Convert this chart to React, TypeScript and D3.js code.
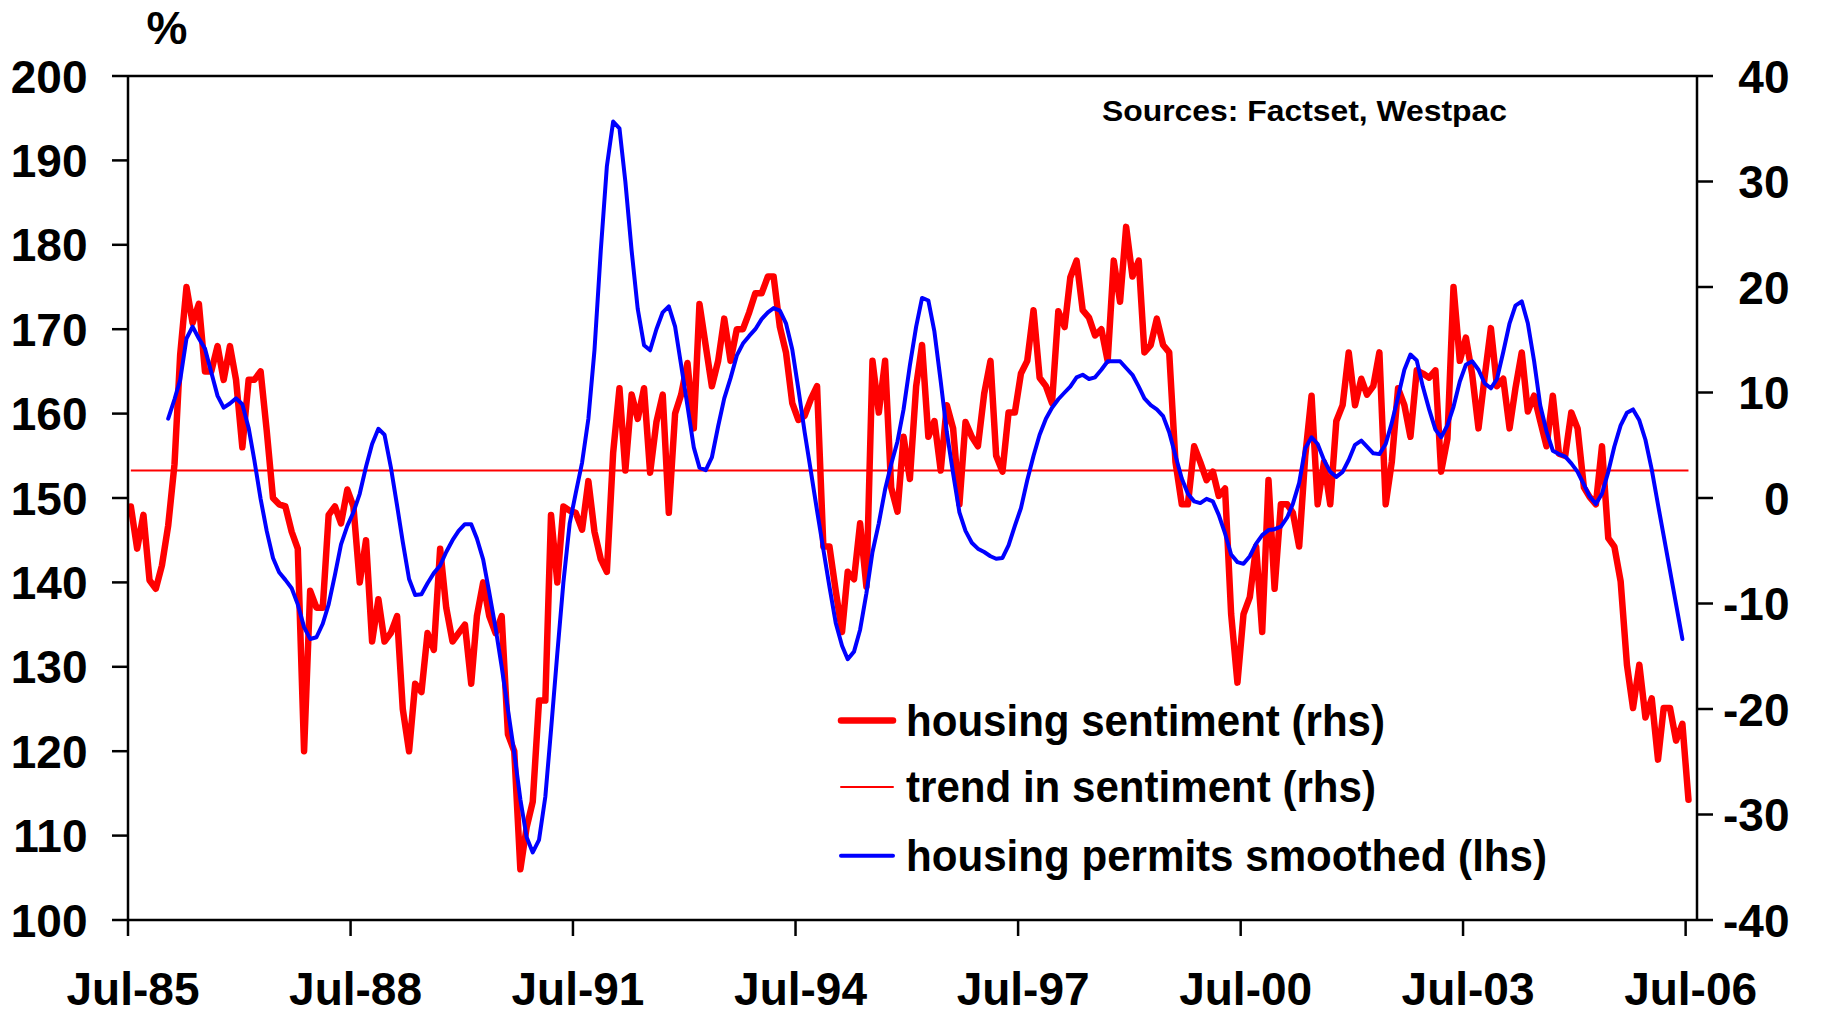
import React, { useEffect } from 'react';
import * as d3 from 'd3';

// housing sentiment (rhs), monthly from Jul-85
const sentimentRhs = [
  -0.8, -4.8, -1.6, -7.8, -8.6, -6.4, -2.6, 3.2, 13.6, 20,
  16.6, 18.4, 12, 12, 14.4, 11.2, 14.4, 11.2, 4.8, 11.2,
  11.2, 12, 6.4, 0, -0.6, -0.8, -3.2, -4.8, -24, -8.8,
  -10.4, -10.4, -1.6, -0.8, -2.4, 0.8, -0.8, -8, -4, -13.6,
  -9.6, -13.6, -12.8, -11.2, -20, -24, -17.6, -18.4, -12.8, -14.4,
  -4.8, -10.4, -13.6, -12.8, -12, -17.6, -11.2, -8, -11.2, -12.8,
  -11.2, -22.4, -24, -35.2, -31.2, -28.8, -19.2, -19.2, -1.6, -8,
  -0.8, -1.2, -1.4, -3, 1.6, -3.2, -5.8, -7, 4.3, 10.4,
  2.6, 9.8, 7.5, 10.4, 2.4, 7.2, 9.8, -1.4, 8, 9.8,
  12.8, 6.6, 18.4, 14.4, 10.6, 13, 17, 13, 16, 16,
  17.6, 19.4, 19.4, 21, 21, 16.2, 13.8, 9, 7.4, 7.8,
  9.4, 10.6, -4.6, -4.6, -8.8, -12.7, -7, -7.7, -2.4, -8.4,
  13, 8.1, 13, 1, -1.3, 5.8, 1.8, 10.6, 14.5, 5.8,
  7.3, 2.6, 8.8, 6.6, -0.6, 7.2, 5.8, 4.9, 9.9, 13,
  4, 2.5, 8.1, 8.1, 11.8, 13, 17.8, 11.4, 10.6, 9,
  17.7, 16.2, 20.9, 22.5, 17.8, 17.1, 15.4, 16, 13, 22.5,
  18.6, 25.7, 21, 22.5, 13.8, 14.5, 17, 14.5, 13.8, 3.4,
  -0.6, -0.6, 4.9, 3.4, 1.7, 2.5, 0.2, 0.9, -11, -17.5,
  -11, -9.4, -4.6, -12.7, 1.7, -8.6, -0.6, -0.6, -1.4, -4.6,
  4, 9.7, -0.6, 3.4, -0.6, 7.3, 8.8, 13.8, 8.8, 11.3,
  9.8, 10.6, 13.8, -0.6, 3.4, 10.4, 8.8, 5.8, 12.1, 11.8,
  11.4, 12.1, 2.5, 5.6, 20, 13, 15.2, 11.7, 6.6, 11.4,
  16.1, 10.6, 11.3, 6.6, 10.4, 13.8, 8.2, 9.7, 7.3, 4.9,
  9.7, 4.2, 4, 8.1, 6.6, 1, 0.1, -0.6, 4.9, -3.8,
  -4.6, -7.9, -15.8, -19.9, -15.8, -20.8, -19, -24.8, -19.9, -19.9,
  -23, -21.4, -28.6,
];

// housing permits smoothed (lhs), monthly from Jan-86
const permitsLhs = [
  159.4, 161.7, 164.0, 168.9, 170.3, 168.9, 167.7, 164.9, 162.1, 160.7,
  161.2, 161.8, 161.1, 158.3, 154.5, 149.9, 146.1, 142.9, 141.2, 140.3,
  139.3, 137.4, 134.7, 133.3, 133.5, 135.1, 137.4, 140.9, 144.5, 146.7,
  148.3, 150.5, 153.7, 156.4, 158.2, 157.5, 153.7, 149.1, 144.8, 140.4,
  138.5, 138.6, 139.9, 141.1, 142.0, 143.6, 145.0, 146.1, 146.9, 146.9,
  145.2, 142.7, 138.8, 134.6, 130.0, 124.9, 119.8, 114.3, 109.8, 108.0,
  109.5, 114.6, 122.5, 131.6, 140.0, 147.0, 150.6, 154.2, 159.4, 167.5,
  179.3, 189.3, 194.6, 193.8, 187.5, 179.3, 172.4, 168.1, 167.5, 170.0,
  172.0, 172.7, 170.3, 165.7, 160.9, 156.0, 153.6, 153.3, 154.8, 158.5,
  161.8, 164.2, 166.9, 168.3, 169.2, 170.0, 171.2, 172.0, 172.5, 172.2,
  170.7, 167.6, 162.9, 157.8, 153.1, 148.5, 143.9, 139.5, 135.2, 132.5,
  130.9, 131.8, 134.4, 138.7, 143.6, 147.0, 151.0, 154.0, 156.7, 160.5,
  165.7, 170.3, 173.7, 173.4, 169.7, 163.8, 157.8, 152.9, 148.3, 146.1,
  144.7, 144.0, 143.6, 143.1, 142.8, 142.9, 144.4, 146.7, 148.8, 152.1,
  155.0, 157.5, 159.4, 160.7, 161.7, 162.5, 163.2, 164.3, 164.6, 164.1,
  164.3, 165.2, 166.2, 166.2, 166.2, 165.4, 164.6, 163.2, 161.8, 161.0,
  160.5, 159.7, 157.8, 155.0, 152.3, 150.5, 149.6, 149.4, 149.9, 149.6,
  148.0, 145.8, 143.3, 142.4, 142.2, 143.1, 144.6, 145.6, 146.2, 146.3,
  146.6, 147.7, 149.3, 151.8, 155.9, 157.2, 156.4, 154.5, 153.1, 152.5,
  153.1, 154.5, 156.3, 156.8, 156.1, 155.3, 155.2, 156.4, 158.9, 162.0,
  165.2, 167.0, 166.3, 163.2, 160.5, 158.1, 157.2, 158.6, 160.8, 163.8,
  165.8, 166.2, 165.2, 163.6, 163.0, 164.1, 167.3, 170.7, 172.8, 173.3,
  170.7, 166.2, 161.0, 157.9, 155.6, 155.2, 154.9, 154.1, 153.1, 151.6,
  150.2, 149.3, 150.5, 153.1, 156.1, 158.6, 160.1, 160.5, 159.2, 156.9,
  153.4, 149.2, 145.5, 141.4, 137.4, 133.3,
];

const trendRhs = 2.6;

const leftTicks = [100, 110, 120, 130, 140, 150, 160, 170, 180, 190, 200];
const rightTicks = [-40, -30, -20, -10, 0, 10, 20, 30, 40];
const xTickYears = [1985, 1988, 1991, 1994, 1997, 2000, 2003, 2006];
const xTickLabels = ['Jul-85', 'Jul-88', 'Jul-91', 'Jul-94', 'Jul-97', 'Jul-00', 'Jul-03', 'Jul-06'];

const legendItems = [
  { label: 'housing sentiment (rhs)', color: '#ff0000', width: 6.5, textLen: 479 },
  { label: 'trend in sentiment (rhs)', color: '#ff0000', width: 2, textLen: 470 },
  { label: 'housing permits smoothed (lhs)', color: '#0000ff', width: 4, textLen: 641 },
];

const W = 1828;
const H = 1015;
const M = { left: 128, right: 1697, top: 76, bottom: 920 };
const FONT = "'Liberation Sans', Arial, Helvetica, sans-serif";

const monthDate = (i: number) => d3.timeMonth.offset(new Date(1985, 6, 15), i);

const App: React.FC = () => {
  useEffect(() => {
    document.body.style.margin = '0';
    document.body.style.overflow = 'hidden';
  }, []);

  const x = d3.scaleTime()
    .domain([new Date(1985, 6, 1), new Date(2006, 7, 26)])
    .range([M.left, M.right]);
  const yL = d3.scaleLinear().domain([100, 200]).range([M.bottom, M.top]);
  const yR = d3.scaleLinear().domain([-40, 40]).range([M.bottom, M.top]);

  const sentiment = sentimentRhs.map((v, i) => ({ d: monthDate(i), v }));
  const permits = permitsLhs.map((v, i) => ({ d: monthDate(i + 6), v }));
  const trend = sentiment.map(p => ({ d: p.d, v: trendRhs }));

  const lineR = d3.line<{ d: Date; v: number }>().x(p => x(p.d)).y(p => yR(p.v));
  const lineL = d3.line<{ d: Date; v: number }>().x(p => x(p.d)).y(p => yL(p.v));

  const tickLen = 16;

  return (
    <svg width={W} height={H} style={{ position: 'absolute', left: 0, top: 0, background: '#fff' }}
      fontFamily={FONT} fontWeight="bold">
      <rect x={0} y={0} width={W} height={H} fill="#fff" />

      {/* series */}
      <path d={lineR(trend) || ''} fill="none" stroke="#ff0000" strokeWidth={2} />
      <path d={lineR(sentiment) || ''} fill="none" stroke="#ff0000" strokeWidth={6.5}
        strokeLinejoin="round" strokeLinecap="round" />
      <path d={lineL(permits) || ''} fill="none" stroke="#0000ff" strokeWidth={4}
        strokeLinejoin="round" strokeLinecap="round" />

      {/* frame */}
      <g stroke="#000" strokeWidth={2.5} fill="none">
        <line x1={M.left} x2={M.right} y1={M.top} y2={M.top} />
        <line x1={M.left} x2={M.left} y1={M.top} y2={M.bottom} />
        <line x1={M.right} x2={M.right} y1={M.top} y2={M.bottom} />
        <line x1={M.left} x2={M.right} y1={M.bottom} y2={M.bottom} />
      </g>

      {/* left axis */}
      {leftTicks.map(t => (
        <g key={'l' + t}>
          <line x1={M.left - tickLen} x2={M.left} y1={yL(t)} y2={yL(t)} stroke="#000" strokeWidth={2.5} />
          <text x={87.5} y={yL(t) + 16.5} textAnchor="end" fontSize={46}>{t}</text>
        </g>
      ))}

      {/* right axis */}
      {rightTicks.map(t => (
        <g key={'r' + t}>
          <line x1={M.right} x2={M.right + tickLen} y1={yR(t)} y2={yR(t)} stroke="#000" strokeWidth={2.5} />
          <text x={1789.5} y={yR(t) + 16.5} textAnchor="end" fontSize={46}>{t}</text>
        </g>
      ))}

      {/* bottom axis */}
      {xTickYears.map((yr, i) => {
        const tx = x(new Date(yr, 6, 1));
        return (
          <g key={'x' + yr}>
            <line x1={tx} x2={tx} y1={M.bottom} y2={M.bottom + tickLen} stroke="#000" strokeWidth={2.5} />
            <text x={tx + 5} y={1005} textAnchor="middle" fontSize={46}>{xTickLabels[i]}</text>
          </g>
        );
      })}

      <text x={167} y={44} textAnchor="middle" fontSize={46}>%</text>

      <text x={1102} y={121} fontSize={30} textLength={405} lengthAdjust="spacingAndGlyphs">
        Sources: Factset, Westpac
      </text>

      {/* legend */}
      {legendItems.map((item, i) => {
        const ly = [720.5, 787, 855.7][i];
        return (
          <g key={item.label}>
            <line x1={841} x2={893} y1={ly} y2={ly} stroke={item.color} strokeWidth={item.width}
              strokeLinecap="round" />
            <text x={906} y={ly + 15} fontSize={44} textLength={item.textLen}
              lengthAdjust="spacingAndGlyphs">{item.label}</text>
          </g>
        );
      })}
    </svg>
  );
};

export default App;
